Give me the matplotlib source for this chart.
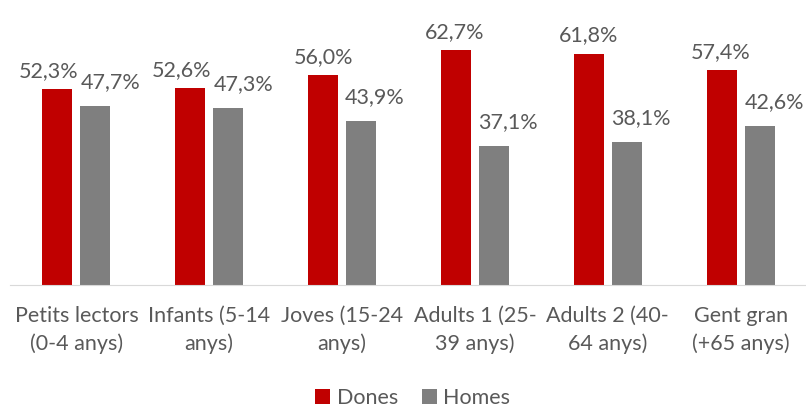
import matplotlib.pyplot as plt
import numpy as np

categories = [
    "Petits lectors\n(0-4 anys)",
    "Infants (5-14\nanys)",
    "Joves (15-24\nanys)",
    "Adults 1 (25-\n39 anys)",
    "Adults 2 (40-\n64 anys)",
    "Gent gran\n(+65 anys)",
]
dones = [52.3, 52.6, 56.0, 62.7, 61.8, 57.4]
homes = [47.7, 47.3, 43.9, 37.1, 38.1, 42.6]

RED = "#C00000"
GREY = "#7F7F7F"
TEXT = "#595959"

# label nudges (points) as placed in the original chart
dones_dx = [-6, -6, 0, -1, 0, -1]
homes_dx = [11, 11, 10, 10, 10, 11]

plt.rcParams["font.family"] = ["Lato", "DejaVu Sans"]

fig = plt.figure(figsize=(8.06, 4.07), dpi=100)
ax = fig.add_axes([10 / 806, 122 / 407, 797 / 806, 262 / 407])

x = np.arange(len(categories))
w = 0.225
off = 0.143
b1 = ax.bar(x - off, dones, w, color=RED, label="Dones")
b2 = ax.bar(x + off, homes, w, color=GREY, label="Homes")

for bars, vals, dxs, dy in ((b1, dones, dones_dx, 6), (b2, homes, homes_dx, 10)):
    for bar, v, dx in zip(bars, vals, dxs):
        ax.annotate(f"{v:.1f}%".replace(".", ","),
                    (bar.get_x() + bar.get_width() / 2, v),
                    xytext=(dx, dy), textcoords="offset points",
                    ha="center", va="bottom", fontsize=15.5, color=TEXT)

ax.set_xlim(-0.5, len(categories) - 0.5)
ax.set_ylim(0, 70)
ax.set_xticks(x)
ax.set_xticklabels(categories, fontsize=15.5, color=TEXT, linespacing=1.45)
ax.tick_params(axis="x", length=0, pad=15)
ax.set_yticks([])
for s in ("top", "right", "left"):
    ax.spines[s].set_visible(False)
ax.spines["bottom"].set_color("#D9D9D9")

fig.legend(loc="lower center", bbox_to_anchor=(0.512, -0.05), ncol=2,
           frameon=False, fontsize=15.5, labelcolor=TEXT,
           handlelength=0.7, handleheight=0.7, handletextpad=0.3,
           columnspacing=1.1)

fig.savefig("out.png", dpi=100)
